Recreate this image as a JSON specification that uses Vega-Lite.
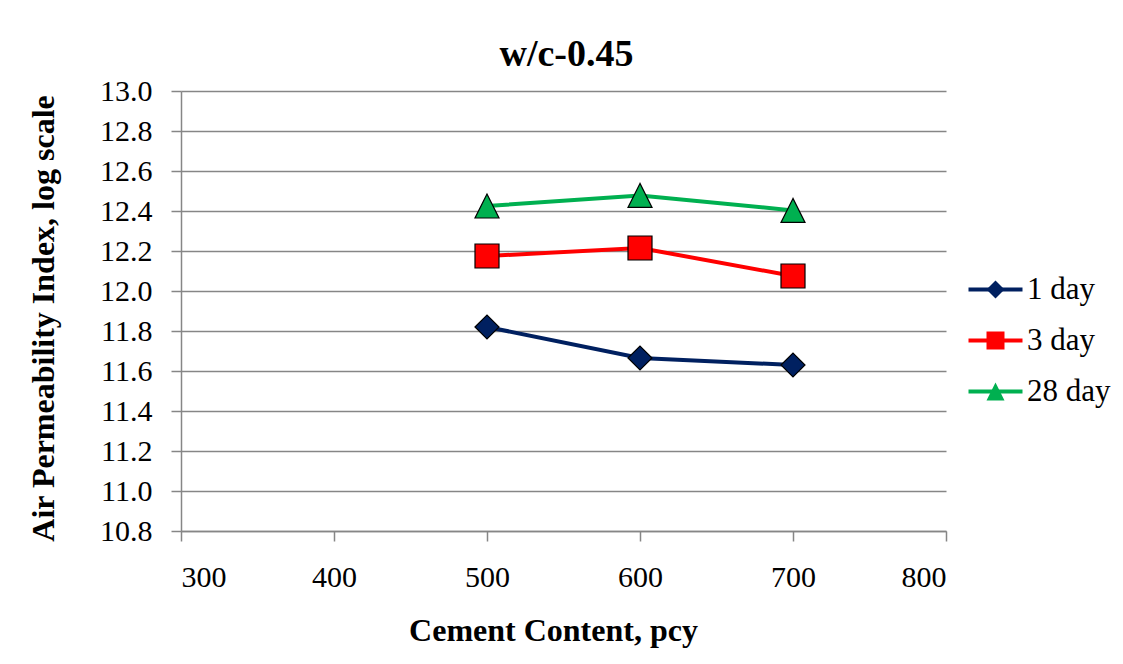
{
  "$schema": "https://vega.github.io/schema/vega-lite/v6.json",
  "autosize": "none",
  "width": 765,
  "height": 440,
  "padding": {"left": 181, "top": 91, "right": 177, "bottom": 133},
  "background": "white",
  "config": {
    "font": "Liberation Serif",
    "view": {"stroke": null},
    "axis": {
      "labelFont": "Liberation Serif",
      "labelFontSize": 30,
      "labelColor": "black",
      "titleFont": "Liberation Serif",
      "titleFontSize": 32,
      "titleFontWeight": "bold",
      "titleColor": "black",
      "domainColor": "#868686",
      "domainWidth": 1.5,
      "tickColor": "#868686",
      "tickWidth": 1.5,
      "tickSize": 10,
      "gridColor": "#868686",
      "gridWidth": 1.5
    }
  },
  "title": {
    "text": "w/c-0.45",
    "font": "Liberation Serif",
    "fontSize": 38,
    "fontWeight": "bold",
    "color": "black",
    "anchor": "middle",
    "frame": "group",
    "offset": 2,
    "dx": 3
  },
  "data": {
    "values": [
      {"cement": 500, "api": 11.82, "series": "1 day"},
      {"cement": 600, "api": 11.665, "series": "1 day"},
      {"cement": 700, "api": 11.63, "series": "1 day"},
      {"cement": 500, "api": 12.175, "series": "3 day"},
      {"cement": 600, "api": 12.215, "series": "3 day"},
      {"cement": 700, "api": 12.075, "series": "3 day"},
      {"cement": 500, "api": 12.425, "series": "28 day"},
      {"cement": 600, "api": 12.478, "series": "28 day"},
      {"cement": 700, "api": 12.403, "series": "28 day"}
    ]
  },
  "encoding": {
    "x": {
      "field": "cement",
      "type": "quantitative",
      "scale": {"domain": [300, 800], "nice": false, "zero": false},
      "axis": {
        "title": "Cement Content, pcy",
        "values": [300, 400, 500, 600, 700, 800],
        "grid": false,
        "labelPadding": 21,
        "titlePadding": 23,
        "titleX": 372
      }
    },
    "y": {
      "field": "api",
      "type": "quantitative",
      "scale": {"domain": [10.8, 13.0], "nice": false, "zero": false},
      "axis": {
        "title": "Air Permeability Index, log scale",
        "values": [10.8, 11.0, 11.2, 11.4, 11.6, 11.8, 12.0, 12.2, 12.4, 12.6, 12.8, 13.0],
        "format": ".1f",
        "labelPadding": 19,
        "titlePadding": 39,
        "titleY": 227
      }
    }
  },
  "layer": [
    {
      "mark": {"type": "line", "strokeWidth": 4},
      "encoding": {
        "stroke": {
          "field": "series",
          "type": "nominal",
          "sort": ["1 day", "3 day", "28 day"],
          "scale": {"range": ["#002060", "#FF0000", "#00B050"]},
          "legend": {
            "title": null,
            "orient": "none",
            "legendX": 799,
            "legendY": 183,
            "padding": 0,
            "symbolType": "M-3,0H3",
            "symbolSize": 324,
            "symbolStrokeWidth": 4,
            "labelFont": "Liberation Serif",
            "labelFontSize": 31,
            "labelColor": "black",
            "labelOffset": 16,
            "rowPadding": 19
          }
        }
      }
    },
    {
      "mark": {"type": "point", "filled": true, "size": 576, "stroke": "black", "strokeWidth": 1.2, "opacity": 1},
      "encoding": {
        "color": {
          "field": "series",
          "type": "nominal",
          "scale": {"domain": ["1 day", "3 day", "28 day"], "range": ["#002060", "#FF0000", "#00B050"]},
          "legend": {
            "title": null,
            "orient": "none",
            "legendX": 799,
            "legendY": 183,
            "padding": 0,
            "symbolSize": 324,
            "symbolStrokeColor": "black",
            "symbolStrokeWidth": 1,
            "symbolOpacity": 1,
            "labelExpr": "''",
            "labelFontSize": 31,
            "rowPadding": 19
          }
        },
        "shape": {
          "field": "series",
          "type": "nominal",
          "scale": {"domain": ["1 day", "3 day", "28 day"], "range": ["diamond", "square", "M0,-1L-1,1L1,1Z"]},
          "legend": {
            "title": null,
            "orient": "none",
            "legendX": 799,
            "legendY": 183,
            "padding": 0,
            "symbolSize": 324,
            "symbolStrokeColor": "black",
            "symbolStrokeWidth": 1,
            "symbolOpacity": 1,
            "labelExpr": "''",
            "labelFontSize": 31,
            "rowPadding": 19
          }
        }
      }
    }
  ]
}
